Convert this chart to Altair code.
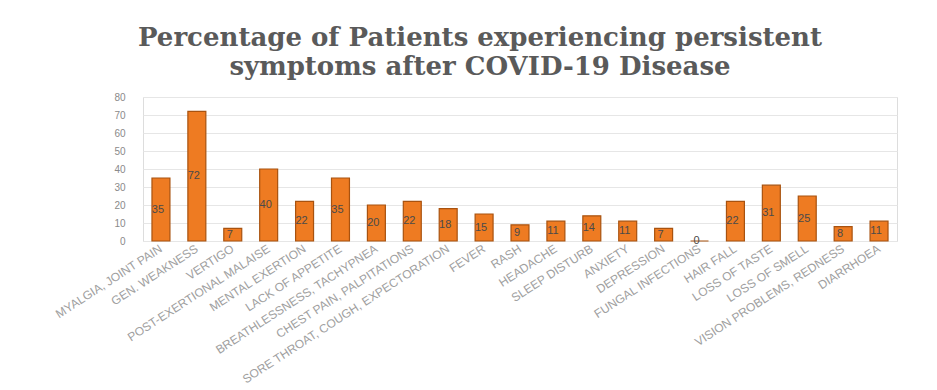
import altair as alt
import pandas as pd

symptoms = [
    "MYALGIA, JOINT PAIN", "GEN. WEAKNESS", "VERTIGO", "POST-EXERTIONAL MALAISE",
    "MENTAL EXERTION", "LACK OF APPETITE", "BREATHLESSNESS, TACHYPNEA",
    "CHEST PAIN, PALPITATIONS", "SORE THROAT, COUGH, EXPECTORATION", "FEVER",
    "RASH", "HEADACHE", "SLEEP DISTURB", "ANXIETY", "DEPRESSION",
    "FUNGAL INFECTIONS", "HAIR FALL", "LOSS OF TASTE", "LOSS OF SMELL",
    "VISION PROBLEMS, REDNESS", "DIARRHOEA",
]
percent = [35, 72, 7, 40, 22, 35, 20, 22, 18, 15, 9, 11, 14, 11, 7, 0, 22, 31, 25, 8, 11]
y_ticks = [0, 10, 20, 30, 40, 50, 60, 70, 80]

df = pd.DataFrame({"symptom": symptoms, "percent": percent})
df["mid"] = df["percent"] / 2

x = alt.X("symptom:N", sort=symptoms, title=None,
          scale=alt.Scale(paddingInner=0.5, paddingOuter=0.25),
          axis=alt.Axis(labelAngle=-33, labelAlign="right", labelBaseline="middle",
                        labelFontSize=12, labelColor="#a0a0a0", labelFont="Liberation Sans",
                        ticks=False, domain=False, labelPadding=6, labelLimit=400))

y_axis = alt.Axis(values=y_ticks, tickCount=20, labelFontSize=10, labelColor="#8a8a8a",
                  labelFont="Liberation Sans", ticks=False, domain=False,
                  labelOverlap=False, gridColor="#e6e6e6", labelPadding=18)
y_scale = alt.Scale(domain=[0, 80], nice=False)

base = alt.Chart(df)

bars = base.mark_bar(color="#EE7B22", stroke="#A8520F", strokeWidth=1.2).encode(
    x=x,
    y=alt.Y("percent:Q", title=None, scale=y_scale, axis=y_axis),
)

labels = base.mark_text(fontSize=11, color="#4a4a4a", font="Liberation Sans", dx=-3).encode(
    x=alt.X("symptom:N", sort=symptoms),
    y=alt.Y("mid:Q", title=None, scale=y_scale, axis=y_axis),
    text=alt.Text("percent:Q", format="d"),
)

chart = (bars + labels).properties(
    width=754,
    height=144,
    autosize=alt.AutoSizeParams(type="none"),
    padding={"left": 143, "top": 97, "right": 40, "bottom": 149},
    title=alt.TitleParams(
        ["Percentage of Patients experiencing persistent", "symptoms after COVID-19 Disease"],
        font="DejaVu Serif", fontSize=26, fontWeight="bold", color="#5a5a5a",
        anchor="middle", dx=-40, offset=12, lineHeight=29,
    ),
).configure_view(stroke=None).configure(background="white")

chart.save("out.html", embed_options={"renderer": "svg", "actions": False})
